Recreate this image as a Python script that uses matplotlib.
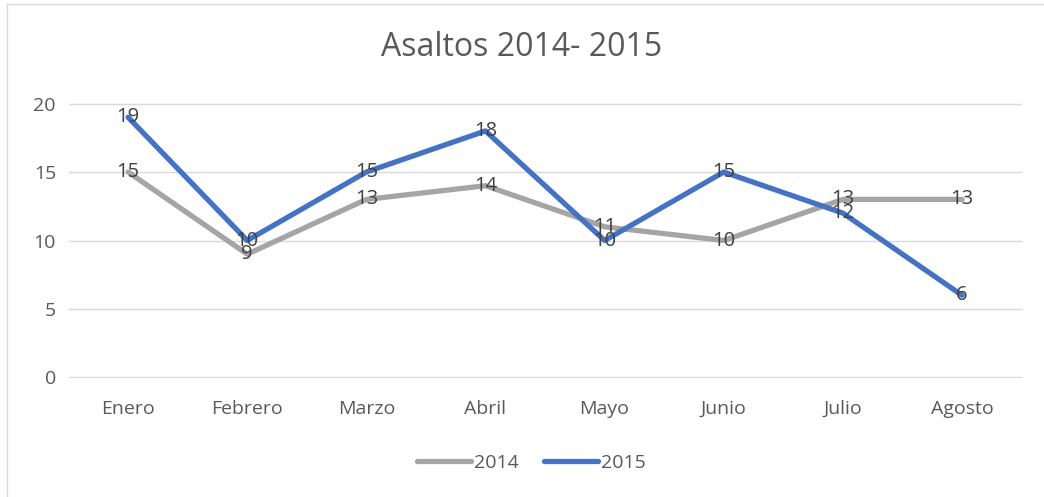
import matplotlib
matplotlib.use("Agg")
import matplotlib.pyplot as plt
from matplotlib.lines import Line2D

plt.rcParams['font.family'] = ['Open Sans', 'DejaVu Sans']

# data
months = ["Enero", "Febrero", "Marzo", "Abril", "Mayo", "Junio", "Julio", "Agosto"]
y2014 = [15, 9, 13, 14, 11, 10, 13, 13]
y2015 = [19, 10, 15, 18, 10, 15, 12, 6]
series_names = ["2014", "2015"]
colors = ["#A5A5A5", "#4472C4"]

fig = plt.figure(figsize=(10.44, 4.97), dpi=100)
ax = fig.add_axes([68.5 / 1044, 1 - 378 / 497, (1021.6 - 68.5) / 1044, 275 / 497])

x = range(len(months))
for vals, c, name in zip([y2014, y2015], colors, series_names):
    ax.plot(x, vals, color=c, lw=3.8, solid_capstyle='round', solid_joinstyle='round', label=name)
    for xi, v in zip(x, vals):
        ax.text(xi, v, str(v), ha='center', va='center', fontsize=14.5, color='#404040')

ax.set_xlim(-0.5, len(months) - 0.5)
ax.set_ylim(-0.04, 20.04)
ax.set_yticks([0, 5, 10, 15, 20])
ax.set_xticks(list(x))
ax.set_xticklabels(months)
ax.grid(axis='y', color='#D9D9D9', lw=1)
ax.set_axisbelow(True)
for s in ax.spines.values():
    s.set_visible(False)
ax.tick_params(length=0, labelsize=14, labelcolor='#595959')
ax.tick_params(axis='y', pad=9)
ax.tick_params(axis='x', pad=16)

fig.text(0.5, 1 - 47 / 497, "Asaltos 2014- 2015", ha='center', va='center', fontsize=23, color='#595959')

handles = [Line2D([], [], color=c, lw=3.8, solid_capstyle='round') for c in colors]
fig.legend(handles, series_names, loc='center', bbox_to_anchor=(0.509, 1 - 463 / 497), ncol=2,
           frameon=False, fontsize=14, labelcolor='#595959', handlelength=2.8, handletextpad=0.15,
           columnspacing=1.3)

# chart frame (only top and left edges visible)
fig.add_artist(Line2D([7 / 1044, 7 / 1044], [0, 1 - 4 / 497], transform=fig.transFigure, color='#D9D9D9', lw=1))
fig.add_artist(Line2D([7 / 1044, 1], [1 - 4 / 497, 1 - 4 / 497], transform=fig.transFigure, color='#D9D9D9', lw=1))

fig.savefig("out.png", dpi=100)
